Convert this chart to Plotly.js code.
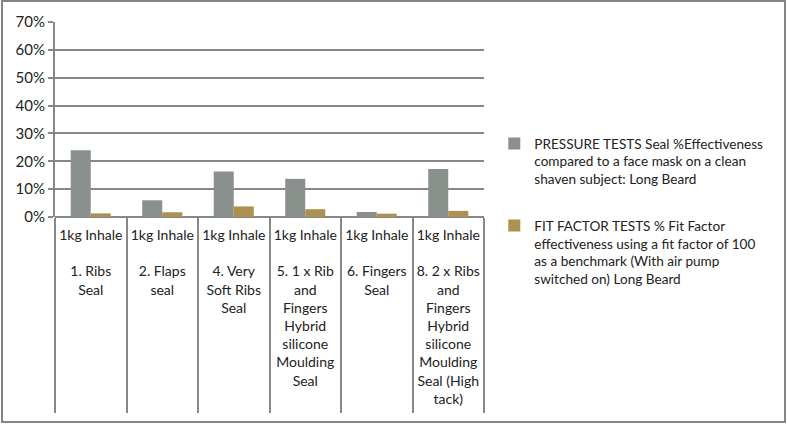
<!DOCTYPE html>
<html>
<head>
<meta charset="utf-8">
<script src="https://cdn.plot.ly/plotly-3.0.1.min.js"></script>
<style>
  body { margin: 0; background: #fff; }
  #wrap { position: relative; width: 787px; height: 424px; }
  #myDiv { width: 787px; height: 424px; }
  #frame {
    position: absolute; left: 1px; top: 0px; width: 785px; height: 423px;
    box-sizing: border-box; border: 2px solid #858585; pointer-events: none;
  }
</style>
</head>
<body>
<div id="wrap">
  <div id="myDiv"></div>
  <div id="frame"></div>
</div>
<script>
// seal designs tested, all at 1kg inhale
var seals = [
    "1. Ribs<br>Seal",
    "2. Flaps<br>seal",
    "4. Very<br>Soft Ribs<br>Seal",
    "5. 1 x Rib<br>and<br>Fingers<br>Hybrid<br>silicone<br>Moulding<br>Seal",
    "6. Fingers<br>Seal",
    "8. 2 x Ribs<br>and<br>Fingers<br>Hybrid<br>silicone<br>Moulding<br>Seal (High<br>tack)"
];
var testLabel = "1kg Inhale";

var pressureName = "PRESSURE TESTS Seal %Effectiveness<br>compared to a face mask on a clean<br>shaven subject: Long Beard";
var fitName = "FIT FACTOR TESTS % Fit Factor<br>effectiveness using a fit factor of 100<br>as a benchmark (With air pump<br>switched on) Long Beard";

var pressureVals = [0.240, 0.060, 0.163, 0.137, 0.018, 0.172];
var fitVals = [0.013, 0.017, 0.038, 0.028, 0.012, 0.022];

var categories = seals.map(function (s) {
    return testLabel + "<br><br>" + s;
});

var axisGray = "#878787";
var labelFont = { family: "Lato, 'Open Sans', sans-serif", size: 14, color: "#222" };
var legendFont = { family: "Lato, 'Open Sans', sans-serif", size: 13.6, color: "#222" };

var trace1 = {
    x: categories,
    y: pressureVals,
    name: pressureName,
    legendgroup: "pressure",
    type: "bar",
    marker: { color: "#8a918c" }
};

var trace2 = {
    x: categories,
    y: fitVals,
    name: fitName,
    legendgroup: "fit",
    type: "bar",
    marker: { color: "#ad9150" }
};

var data = [trace1, trace2];
var layout = {
    width: 787,
    height: 424,
    margin: { l: 55, r: 303, t: 22, b: 207 },
    paper_bgcolor: "#fff",
    plot_bgcolor: "#fff",
    font: labelFont,
    barmode: "group",
    bargap: 0.44,
    bargroupgap: 0,
    showlegend: true,
    xaxis: {
        type: "category",
        tickson: "boundaries",
        tickangle: 0,
        automargin: false,
        ticks: "outside",
        ticklen: 195,
        tickwidth: 2,
        tickcolor: axisGray,
        ticklabelstandoff: 8,
        showgrid: false,
        showline: false,
        zeroline: false,
        tickfont: labelFont,
        fixedrange: true
    },
    yaxis: {
        range: [0, 0.7],
        dtick: 0.1,
        tickformat: ".0%",
        automargin: false,
        ticks: "outside",
        ticklen: 5,
        tickwidth: 2,
        tickcolor: axisGray,
        gridcolor: axisGray,
        gridwidth: 2,
        showline: true,
        linecolor: axisGray,
        linewidth: 2,
        zeroline: true,
        zerolinecolor: axisGray,
        zerolinewidth: 2,
        tickfont: { family: labelFont.family, size: 15, color: "#222" },
        fixedrange: true
    },
    legend: {
        x: 1.024,
        y: 0.03,
        xanchor: "left",
        yanchor: "middle",
        valign: "top",
        tracegroupgap: 26,
        font: legendFont,
        bgcolor: "rgba(255, 255, 255, 0)"
    }
};
Plotly.newPlot("myDiv", data, layout, { displayModeBar: false, staticPlot: true });
</script>
</body>
</html>
